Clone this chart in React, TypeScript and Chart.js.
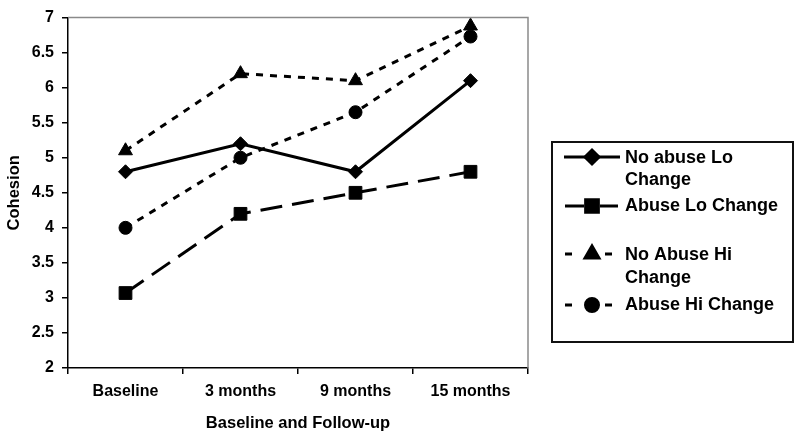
import React, { useEffect, useRef } from 'react';
import { Chart, registerables } from 'chart.js';
import { drawPoint } from 'chart.js/helpers';

Chart.register(...registerables);

const categories = ['Baseline', '3 months', '9 months', '15 months'];
const noAbuseLo = [4.8, 5.2, 4.8, 6.1];
const abuseLo = [3.07, 4.2, 4.5, 4.8];
const noAbuseHi = [5.1, 6.2, 6.1, 6.88];
const abuseHi = [4.0, 5.0, 5.65, 6.73];

const seriesNames = ['No abuse Lo Change', 'Abuse Lo Change', 'No Abuse Hi Change', 'Abuse Hi Change'];
const legendLines = [['No abuse Lo', 'Change'], ['Abuse Lo Change'], ['No Abuse Hi', 'Change'], ['Abuse Hi Change']];
const yMin = 2;
const yMax = 7;
const yStep = 0.5;
const xTitle = 'Baseline and Follow-up';
const yTitle = 'Cohesion';

const FONT = "'Liberation Sans', Arial, sans-serif";

const frameAndLegend = {
  id: 'frameAndLegend',
  afterDraw(chart: any) {
    const ctx = chart.ctx;
    const { left, right, top, bottom } = chart.chartArea;
    ctx.save();
    ctx.strokeStyle = '#8a8a8a';
    ctx.lineWidth = 1.5;
    ctx.beginPath();
    ctx.moveTo(left, top);
    ctx.lineTo(right, top);
    ctx.lineTo(right, bottom);
    ctx.stroke();

    const bx = 552, by = 142, bw = 241, bh = 200;
    ctx.strokeStyle = '#111';
    ctx.lineWidth = 2;
    ctx.strokeRect(bx, by, bw, bh);

    const rows = [
      { symY: 157, textY: [158, 180] },
      { symY: 206, textY: [206] },
      { symY: 254, textY: [255, 278] },
      { symY: 305, textY: [305] },
    ];
    const dsets = chart.data.datasets;
    rows.forEach((r, i) => {
      const ds = dsets[i];
      ctx.strokeStyle = '#000';
      ctx.fillStyle = '#000';
      ctx.lineWidth = 3;
      ctx.setLineDash([]);
      ctx.beginPath();
      if (i === 0) {
        ctx.moveTo(564, r.symY);
        ctx.lineTo(620, r.symY);
      } else if (i === 1) {
        ctx.moveTo(565, r.symY);
        ctx.lineTo(584, r.symY);
        ctx.moveTo(600, r.symY);
        ctx.lineTo(618, r.symY);
      } else {
        ctx.moveTo(565, r.symY);
        ctx.lineTo(572, r.symY);
        ctx.moveTo(605, r.symY);
        ctx.lineTo(612, r.symY);
      }
      ctx.stroke();
      drawPoint(ctx, { pointStyle: ds.pointStyle, radius: ds.pointRadius, rotation: 0, borderWidth: 1 }, 592, r.symY);
      ctx.fillStyle = '#000';
      ctx.font = `bold 18px ${FONT}`;
      ctx.textBaseline = 'middle';
      ctx.textAlign = 'left';
      legendLines[i].forEach((t, k) => ctx.fillText(t, 625, r.textY[k]));
    });
    ctx.restore();
  },
};

export default function App() {
  const ref = useRef<HTMLCanvasElement>(null);
  useEffect(() => {
    if (!ref.current) return;
    const common = { borderColor: '#000', backgroundColor: '#000', pointBackgroundColor: '#000', pointBorderColor: '#000', pointBorderWidth: 1, borderWidth: 3, tension: 0 };
    const chart = new Chart(ref.current, {
      type: 'line',
      data: {
        labels: categories,
        datasets: [
          { ...common, label: seriesNames[0], data: noAbuseLo, pointStyle: 'rectRot', pointRadius: 7 },
          { ...common, label: seriesNames[1], data: abuseLo, pointStyle: 'rect', pointRadius: 9, borderDash: [22, 10] },
          { ...common, label: seriesNames[2], data: noAbuseHi, pointStyle: 'triangle', pointRadius: 8, borderDash: [7, 7] },
          { ...common, label: seriesNames[3], data: abuseHi, pointStyle: 'circle', pointRadius: 6.5, borderDash: [7, 7] },
        ] as any,
      },
      options: {
        responsive: false,
        animation: false,
        layout: { padding: { left: 0, top: 14, right: 272, bottom: 0 } },
        plugins: { legend: { display: false }, tooltip: { enabled: false } },
        scales: {
          x: {
            offset: true,
            grid: { display: true, drawOnChartArea: false, drawTicks: true, tickLength: 6, color: '#000', lineWidth: 1.5, offset: true },
            border: { display: true, color: '#000', width: 1.5 },
            ticks: { color: '#000', font: { family: FONT, size: 16, weight: 'bold' }, padding: 8, maxRotation: 0 },
            title: { display: true, text: xTitle, color: '#000', font: { family: FONT, size: 16.5, weight: 'bold' }, padding: { top: 0, bottom: 6 } },
            afterFit: (s: any) => { s.height = 71; },
          },
          y: {
            min: yMin,
            max: yMax,
            ticks: { stepSize: yStep, color: '#000', font: { family: FONT, size: 16, weight: 'bold' }, padding: 8, callback: (v: any) => String(Number(v)) },
            grid: { display: true, drawOnChartArea: false, drawTicks: true, tickLength: 6, color: '#000', lineWidth: 1.5 },
            border: { display: true, color: '#000', width: 1.5 },
            title: { display: true, text: yTitle, color: '#000', font: { family: FONT, size: 16.5, weight: 'bold' }, padding: { top: 5, bottom: 0 } },
            afterFit: (s: any) => { s.width = 68; },
          },
        },
      } as any,
      plugins: [frameAndLegend],
    });
    return () => chart.destroy();
  }, []);
  return (
    <div style={{ position: 'fixed', left: 0, top: 0, width: 800, height: 439, background: '#fff' }}>
      <canvas ref={ref} width={800} height={439} style={{ width: 800, height: 439 }} />
    </div>
  );
}
